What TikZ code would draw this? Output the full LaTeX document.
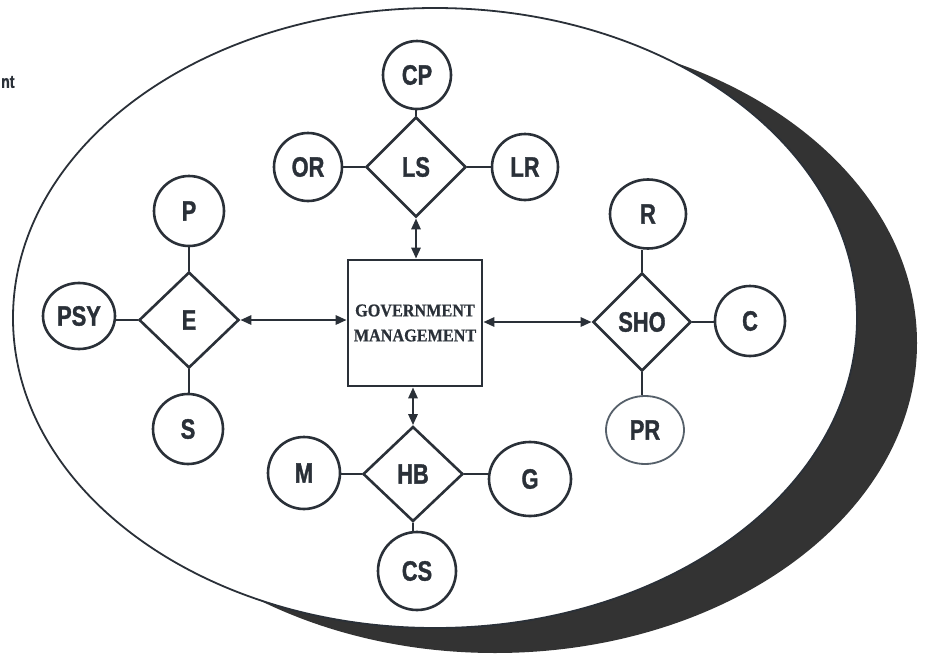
\documentclass[tikz,border=0pt]{standalone}
\usepackage{fontspec}
\setmainfont{Liberation Serif}[BoldFont={Liberation Serif Bold}]
\newfontfamily\lblfont{Liberation Sans Bold}[FakeStretch=0.78,FakeBold=1.2]
\newfontfamily\boxfont{Liberation Serif Bold}[FakeStretch=0.9,FakeBold=0.6]
\usetikzlibrary{shapes.geometric,arrows.meta}
\definecolor{ink}{HTML}{2A3038}
\definecolor{shadowc}{HTML}{333333}
\definecolor{lightink}{HTML}{56606A}
\begin{document}
\begin{tikzpicture}[x=1pt,y=-1pt,
  every node/.style={text=ink},
  attr/.style={ellipse,draw=ink,line width=2.6pt,inner sep=0pt,
    font=\lblfont\fontsize{28}{28}\selectfont},
  rel/.style={diamond,draw=ink,line width=2.6pt,inner sep=0pt,
    font=\lblfont\fontsize{28}{28}\selectfont},
  link/.style={draw=ink,line width=2.6pt},
  biarrow/.style={draw=ink,line width=2.6pt,
    {Triangle[length=11pt,width=9pt]}-{Triangle[length=11pt,width=9pt]}},
]
\useasboundingbox (0,0) rectangle (927,656);
% shadow and oval
\fill[shadowc] (495,343) ellipse [x radius=422, y radius=310];
\filldraw[fill=white,draw=ink,line width=1.8pt] (435,318) ellipse [x radius=422, y radius=310];

\node[anchor=west,inner sep=0pt,font=\lblfont\fontsize{18}{18}\selectfont] (nt) at (1,82) {nt};

% central box
\node[draw=ink,line width=2.6pt,minimum width=134,minimum height=126,inner sep=0pt,
  align=center,font=\boxfont\fontsize{18}{25}\selectfont] (gm) at (415,323)
  {GOVERNMENT\\MANAGEMENT};

% relationship diamonds
\node[rel,minimum width=100,minimum height=100] (LS) at (416,167) {LS};
\node[rel,minimum width=100,minimum height=96] (E) at (189,320) {E};
\node[rel,minimum width=98,minimum height=98] (SHO) at (642,322) {SHO};
\node[rel,minimum width=100,minimum height=95] (HB) at (413,474) {HB};

% attributes
\node[attr,minimum width=68,minimum height=68] (CP) at (417,75) {CP};
\node[attr,minimum width=68,minimum height=68] (OR) at (308,167) {OR};
\node[attr,minimum width=66,minimum height=66] (LR) at (525,167) {LR};
\node[attr,minimum width=70,minimum height=70] (P) at (189,211) {P};
\node[attr,minimum width=72,minimum height=66] (PSY) at (79,316) {PSY};
\node[attr,minimum width=70,minimum height=70] (S) at (188,429) {S};
\node[attr,minimum width=76,minimum height=69] (R) at (648,214) {R};
\node[attr,minimum width=70,minimum height=70] (C) at (750,321) {C};
\node[attr,draw=lightink,line width=1.8pt,minimum width=78,minimum height=68] (PR) at (645,430) {PR};
\node[attr,minimum width=72,minimum height=72] (M) at (304,473) {M};
\node[attr,minimum width=82,minimum height=74] (G) at (530,479) {G};
\node[attr,minimum width=78,minimum height=78] (CS) at (417,571) {CS};

% links
\draw[link] (LS.north) -- (LS.north |- CP.south);
\draw[link] (LS.west) -- (LS.west -| OR.east);
\draw[link] (LS.east) -- (LS.east -| LR.west);
\draw[link] (E.north) -- (E.north |- P.south);
\draw[link] (E.west) -- (E.west -| PSY.east);
\draw[link] (E.south) -- (E.south |- S.north);
\draw[link] (SHO.north) -- (SHO.north |- R.south);
\draw[link] (SHO.east) -- (SHO.east -| C.west);
\draw[link] (SHO.south) -- (SHO.south |- PR.north);
\draw[link] (HB.west) -- (HB.west -| M.east);
\draw[link] (HB.east) -- (HB.east -| G.west);
\draw[link] (HB.south) -- (HB.south |- CS.north);

% arrows
\draw[biarrow] (LS.south) -- (LS.south |- gm.north);
\draw[biarrow] (gm.south -| HB.north) -- (HB.north);
\draw[biarrow] (E.east) -- (E.east -| gm.west);
\draw[biarrow] (gm.east |- SHO.west) -- (SHO.west);
\end{tikzpicture}
\end{document}
